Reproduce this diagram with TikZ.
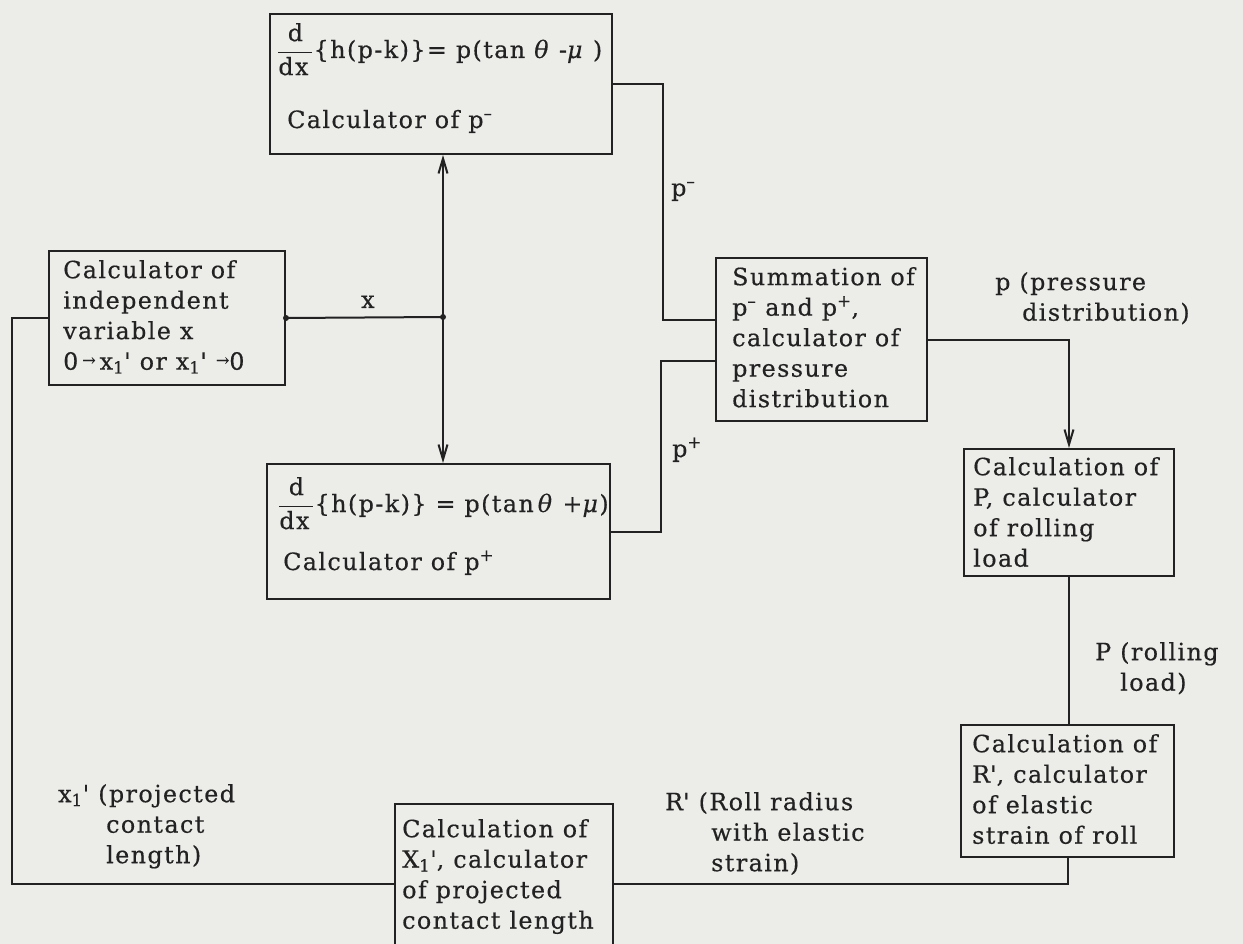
\documentclass[tikz,border=0pt]{standalone}
\usepackage{fontspec}
\setmainfont{DejaVu Serif}[LetterSpace=6,FakeBold=0.4]
\usetikzlibrary{arrows.meta}
\definecolor{paper}{RGB}{236,236,233}
\definecolor{ink}{RGB}{34,34,34}
\newcommand\bodyfont{\fontsize{23.8}{30.5}\selectfont}
\newcommand\smallarrow{\raisebox{4pt}{\fontsize{16}{16}\selectfont →}}
\newcommand\ddx{$\displaystyle\frac{\mbox{d}}{\mbox{dx\hspace{4pt}}}$}
\newcommand\supm{\textsuperscript{–}}
\begin{document}
\begin{tikzpicture}[x=1pt,y=-1pt,
  box/.style={draw=ink, line width=2pt, anchor=north west, inner sep=0pt, rectangle},
  txt/.style={anchor=north west, inner sep=0pt, align=left, font=\bodyfont, text=ink, yshift=21.35pt},
  lbl/.style={anchor=base west, inner sep=0pt, font=\bodyfont, text=ink},
  wire/.style={draw=ink, line width=2pt},
  arr/.style={wire, -{Straight Barb[length=15pt,width=9pt]}},
  jdot/.style={circle, fill=ink, inner sep=0pt, minimum size=6pt}]
\fill[paper] (0,0) rectangle (1243,944);
\useasboundingbox (0,0) rectangle (1243,944);

% boxes
\node[box, minimum width=342pt, minimum height=140pt] (A) at (269,13) {};
\node[box, minimum width=236pt, minimum height=134pt] (L) at (48,250) {};
\node[box, minimum width=343pt, minimum height=135pt] (B) at (266,463) {};
\node[box, minimum width=211pt, minimum height=163pt] (S) at (715,257) {};
\node[box, minimum width=210pt, minimum height=127pt] (P) at (963,448) {};
\node[box, minimum width=213pt, minimum height=132pt] (R) at (960,724) {};
\node[box, minimum width=218pt, minimum height=160pt] (X) at (394,803) {};

% box texts
\node[lbl] (Af) at (277,58) {\ddx\{h(p-k)\}= p(tan \textit{θ} -\textit{μ} )};
\node[lbl] (At) at (287,128) {Calculator of p\supm};
\node[lbl] (Bf) at (278,512) {\ddx\{h(p-k)\}\hspace{9pt}= p(tan\,\textit{θ} +\textit{μ})};
\node[lbl] (Bt) at (283,570) {Calculator of p\textsuperscript{+}};
\node[txt] (Lt) at (63,278) {\strut Calculator of\\ \strut independent\\ \strut variable x\\ \strut 0\,\smallarrow\,x\textsubscript{1}\textquotesingle{} or x\textsubscript{1}\textquotesingle{} \smallarrow0};
\node[txt] (St) at (732,285) {\strut Summation of\\ \strut p\supm{} and p\textsuperscript{+},\\ \strut calculator of\\ \strut pressure\\ \strut distribution};
\node[txt] (Pt) at (973,475) {\strut Calculation of\\ \strut P, calculator\\ \strut of rolling\\ \strut load};
\node[txt] (Rt) at (972,752) {\strut Calculation of\\ \strut R\textquotesingle, calculator\\ \strut of elastic\\ \strut strain of roll};
\node[txt] (Xt) at (402,837) {\strut Calculation of\\ \strut X\textsubscript{1}\textquotesingle, calculator\\ \strut of projected\\ \strut contact length};

% junction
\node[jdot] (J) at (443,317) {};
\node[jdot] (J0) at (L.east) {};

% connectors
\draw[wire] (A.east) -| ([xshift=-52pt,yshift=-63pt]S.north west) -- ([yshift=-63pt]S.north west);
\draw[wire] (B.east) -| ([xshift=-54pt,yshift=-104pt]S.north west) -- ([yshift=-104pt]S.north west);
\draw[arr] (S.east) -| (P.north);
\draw[wire] (P.south) -- (P.south |- R.north);
\draw[wire] (R.south) |- (X.east);
\draw[wire] (X.west) -| ([xshift=-36pt]L.west) -- (L.west);
\draw[wire] (L.east) -- (J.center);
\draw[arr] (J.center) -- (J |- A.south);
\draw[arr] (J.center) -- (J |- B.north);

% connector labels
\node[lbl] (xl) at (361,308) {x};
\node[lbl] (pm) at (671,196) {p\supm};
\node[lbl] (pp) at (672,457) {p\textsuperscript{+}};
\node[txt] (pd) at (995,290) {\strut p (pressure\\ \strut\hspace*{27pt}distribution)};
\node[txt] (Pl) at (1095,660) {\strut P (rolling\\ \strut\hspace*{25pt}load)};
\node[txt] (Rl) at (665,810) {\strut R\textquotesingle{} (Roll radius\\ \strut\hspace*{46pt}with elastic\\ \strut\hspace*{46pt}strain)};
\node[txt] (xl1) at (58,802) {\strut x\textsubscript{1}\textquotesingle{} (projected\\ \strut\hspace*{48pt}contact\\ \strut\hspace*{48pt}length)};
\end{tikzpicture}
\end{document}
